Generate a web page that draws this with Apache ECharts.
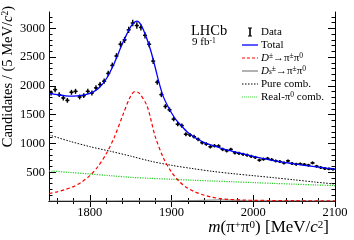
<!DOCTYPE html>
<html><head><meta charset="utf-8">
<script src="https://cdn.jsdelivr.net/npm/echarts@6/dist/echarts.min.js"></script>
<style>html,body{margin:0;padding:0;background:#fff}#c{width:354px;height:240px}</style>
</head><body><div id="c"></div>
<script>
// ---- binning of the data histogram ----
const binLow = 1750, binWidth = 5;
// ---- data counts per 5 MeV bin (1750-2100) ----
const counts = [1878,1936,1849,1791,1749,1889,1906,1808,1831,1906,
  1878,1966,2024,2082,2217,2357,2520,2725,2800,2975,
  3093,3050,3017,2880,2725,2432,2064,1849,1644,1586,
  1423,1335,1311,1160,1148,1118,1072,1013,990,943,
  960,955,897,873,897,838,827,812,797,775,
  757,710,727,739,720,697,685,662,697,652,
  640,645,635,622,662,604,582,564,558,552];

// ---- fit curves ----
const totalX = [1750,1760,1770,1780,1790,1800,1810,1820,1830,1840,1850,1855,1858,1862,1866,1870,1875,1880,1885,1890,1895,1900,1905,1910,1920,1930,1940,1950,1960,1970,1980,1990,2000,2010,2020,2030,2040,2050,2060,2070,2080,2090,2100];
const totalY = [1870,1848,1828,1822,1835,1870,1950,2120,2400,2740,3030,3110,3125,3075,2960,2810,2590,2320,2040,1810,1660,1530,1420,1340,1190,1090,1015,965,920,880,845,810,775,745,717,690,667,645,625,607,590,572,555];

const sigX = [1750,1760,1770,1780,1790,1800,1810,1820,1830,1840,1850,1855,1860,1870,1880,1890,1900,1910,1920,1930,1940,1950,1960,1970,1980,1990,2000,2020,2050,2100];
const sigY = [130,160,200,250,330,440,600,820,1110,1480,1830,1900,1880,1650,1120,750,500,330,220,150,100,65,40,28,20,15,12,8,5,3];

const dsX = [1750,1850,1900,1930,1950,1960,1970,1990,2020,2100];
const dsY = [0,1,3,8,15,18,15,7,2,0];

const combX = [1750,1775,1800,1825,1850,1875,1900,1925,1950,1975,2000,2025,2050,2075,2100];
const combY = [1150,1040,945,865,780,690,620,565,515,475,440,405,368,330,295];

const realX = [1750,1775,1800,1825,1850,1875,1900,1925,1950,1975,2000,2025,2050,2075,2100];
const realY = [525,497,470,440,412,393,378,362,348,334,320,306,293,280,268];

// ---- ticks ----
const xMajor = [1800,1900,2000,2100];
const yMajor = [500,1000,1500,2000,2500,3000];
const xMinor = []; for (let v = 1760; v < 2100; v += 20) if (v % 100) xMinor.push(v);
const yMinor = []; for (let v = 100; v < 3290; v += 100) if (v % 500) yMinor.push(v);

const legendNames = ['Data','Total','{i|D}{sup|±}→π{sup|±}π{sup|0}','{i|D}{sub|s}{sup|±}→π{sup|±}π{sup|0}','Pure comb.','Real-π{sup|0} comb.'];

const pairs = (xs, ys) => xs.map((x, i) => [x, ys[i]]);
const dataPts = counts.map((c, i) => [binLow + binWidth * (i + 0.5), c, Math.sqrt(c)]);

const FONT = 'Liberation Serif';
const XMIN = 1750, XMAX = 2100, YMIN = 0, YMAX = 3285;
const plain = (v) => String(v);

function xAx(pos, ticks, len, labels, showLine) {
  return {type:'value', position:pos, min:XMIN, max:XMAX, gridIndex:0,
    axisLine:{show:showLine, lineStyle:{color:'#000', width:1}},
    axisTick:{show:true, inside:true, length:len, customValues:ticks, lineStyle:{color:'#000', width:1}},
    axisLabel:{show:labels, customValues:ticks, formatter:plain, margin:5, color:'#000', fontFamily:FONT, fontSize:12.5},
    splitLine:{show:false}};
}
function yAx(pos, ticks, len, labels, showLine) {
  return {type:'value', position:pos, min:YMIN, max:YMAX, gridIndex:0,
    axisLine:{show:showLine, lineStyle:{color:'#000', width:1}},
    axisTick:{show:true, inside:true, length:len, customValues:ticks, lineStyle:{color:'#000', width:1}},
    axisLabel:{show:labels, customValues:ticks, formatter:plain, margin:4, color:'#000', fontFamily:FONT, fontSize:12.5},
    splitLine:{show:false}};
}

const chart = echarts.init(document.getElementById('c'), null, {renderer:'canvas'});
const leg = (i) => 32 + i * 13;
const richT = {
  i:{fontStyle:'italic', fontSize:11, fontFamily:FONT},
  sup:{fontSize:7.5, fontFamily:FONT, verticalAlign:'top'},
  sub:{fontSize:7.5, fontFamily:FONT, fontStyle:'italic', verticalAlign:'bottom'}
};
const legendGraphic = [];
const legendStyles = [null,
  {stroke:'#0000ff', lineWidth:1.3},
  {stroke:'#ff0000', lineWidth:1.2, lineDash:[3,2]},
  {stroke:'#888888', lineWidth:1.3},
  {stroke:'#000000', lineWidth:1, lineDash:[1.5,1.5]},
  {stroke:'#44dd44', lineWidth:1, lineDash:[1,1]}];
legendNames.forEach((n, i) => {
  const y = leg(i);
  if (i === 0) {
    legendGraphic.push({type:'line', shape:{x1:250, y1:y-4, x2:250, y2:y+4}, style:{stroke:'#000', lineWidth:1.6}});
    legendGraphic.push({type:'line', shape:{x1:248, y1:y-4, x2:252, y2:y-4}, style:{stroke:'#000', lineWidth:1}});
    legendGraphic.push({type:'line', shape:{x1:248, y1:y+4, x2:252, y2:y+4}, style:{stroke:'#000', lineWidth:1}});
  } else {
    legendGraphic.push({type:'line', shape:{x1:242, y1:y, x2:258, y2:y}, style:legendStyles[i]});
  }
  legendGraphic.push({type:'text', x:261, y:y, style:{text:n, rich:richT, fontFamily:FONT, fontSize:11, fill:'#000', verticalAlign:'middle', align:'left'}});
});

const option = {
  animation:false,
  backgroundColor:'#fff',
  grid:{left:49, right:19, top:12, bottom:39, containLabel:false},
  xAxis:[xAx('bottom', xMajor, 6, true, true), xAx('bottom', xMinor, 3, false, false),
         xAx('top', xMajor, 6, false, true), xAx('top', xMinor, 3, false, false)],
  yAxis:[yAx('left', yMajor, 7, true, true), yAx('left', yMinor, 3.5, false, false),
         yAx('right', yMajor, 7, false, true), yAx('right', yMinor, 3.5, false, false)],
  series:[
    {type:'line', name:'Real', data:pairs(realX, realY), showSymbol:false, smooth:0.3,
      lineStyle:{color:'#22cc22', width:1.2, type:[1.2,1.2]}, z:2},
    {type:'line', name:'Pure', data:pairs(combX, combY), showSymbol:false, smooth:0.3,
      lineStyle:{color:'#000', width:1, type:[1.5,1.5]}, z:2},
    {type:'line', name:'Ds', data:pairs(dsX, dsY), showSymbol:false, smooth:0.3,
      lineStyle:{color:'#888', width:1.2}, z:2},
    {type:'line', name:'Dp', data:pairs(sigX, sigY), showSymbol:false, smooth:0.3,
      lineStyle:{color:'#ff0000', width:1.2, type:[3.5,2.5]}, z:3},
    {type:'custom', name:'Data', data:dataPts, z:4,
      renderItem:function(params, api){
        const x = api.value(0), y = api.value(1), e = api.value(2);
        const c = api.coord([x, y]);
        const l = api.coord([x - binWidth/2, y]);
        const r = api.coord([x + binWidth/2, y]);
        const t = api.coord([x, y + e]);
        const b = api.coord([x, y - e]);
        return {type:'group', children:[
          {type:'line', shape:{x1:l[0], y1:c[1], x2:r[0], y2:c[1]}, style:{stroke:'#000', lineWidth:1.4}},
          {type:'line', shape:{x1:c[0], y1:t[1], x2:c[0], y2:b[1]}, style:{stroke:'#000', lineWidth:1.4}},
          {type:'circle', shape:{cx:c[0], cy:c[1], r:1.2}, style:{fill:'#000'}}
        ]};
      }},
    {type:'line', name:'Total', data:pairs(totalX, totalY), showSymbol:false, smooth:0.3,
      lineStyle:{color:'#0000ff', width:1.3}, z:5}
  ],
  graphic:[
    {type:'text', x:191, y:24, style:{text:'LHCb', fontFamily:FONT, fontSize:14.5, fill:'#000'}},
    {type:'text', x:192, y:37, style:{text:'9 fb{sup|-1}', rich:{sup:{fontSize:7.5, fontFamily:FONT, verticalAlign:'top'}}, fontFamily:FONT, fontSize:11, fill:'#000'}},
    {type:'text', x:8, y:6, rotation:Math.PI/2,
      style:{text:'Candidates / (5 MeV/{i|c}{sup|2})', rich:{i:{fontStyle:'italic', fontSize:14.5, fontFamily:FONT}, sup:{fontSize:9.5, fontFamily:FONT, verticalAlign:'top'}},
        fontFamily:FONT, fontSize:14.5, fill:'#000', align:'right', verticalAlign:'middle'}},
    {type:'text', x:329, y:228,
      style:{text:'{i|m}(π{sup|+}π{sup|0}) [MeV/{i|c}{sup|2}]', rich:{i:{fontStyle:'italic', fontSize:17, fontFamily:FONT}, sup:{fontSize:11, fontFamily:FONT, verticalAlign:'top'}},
        fontFamily:FONT, fontSize:17, fill:'#000', align:'right', verticalAlign:'middle'}},
    ...legendGraphic
  ]
};
chart.setOption(option);
</script></body></html>
